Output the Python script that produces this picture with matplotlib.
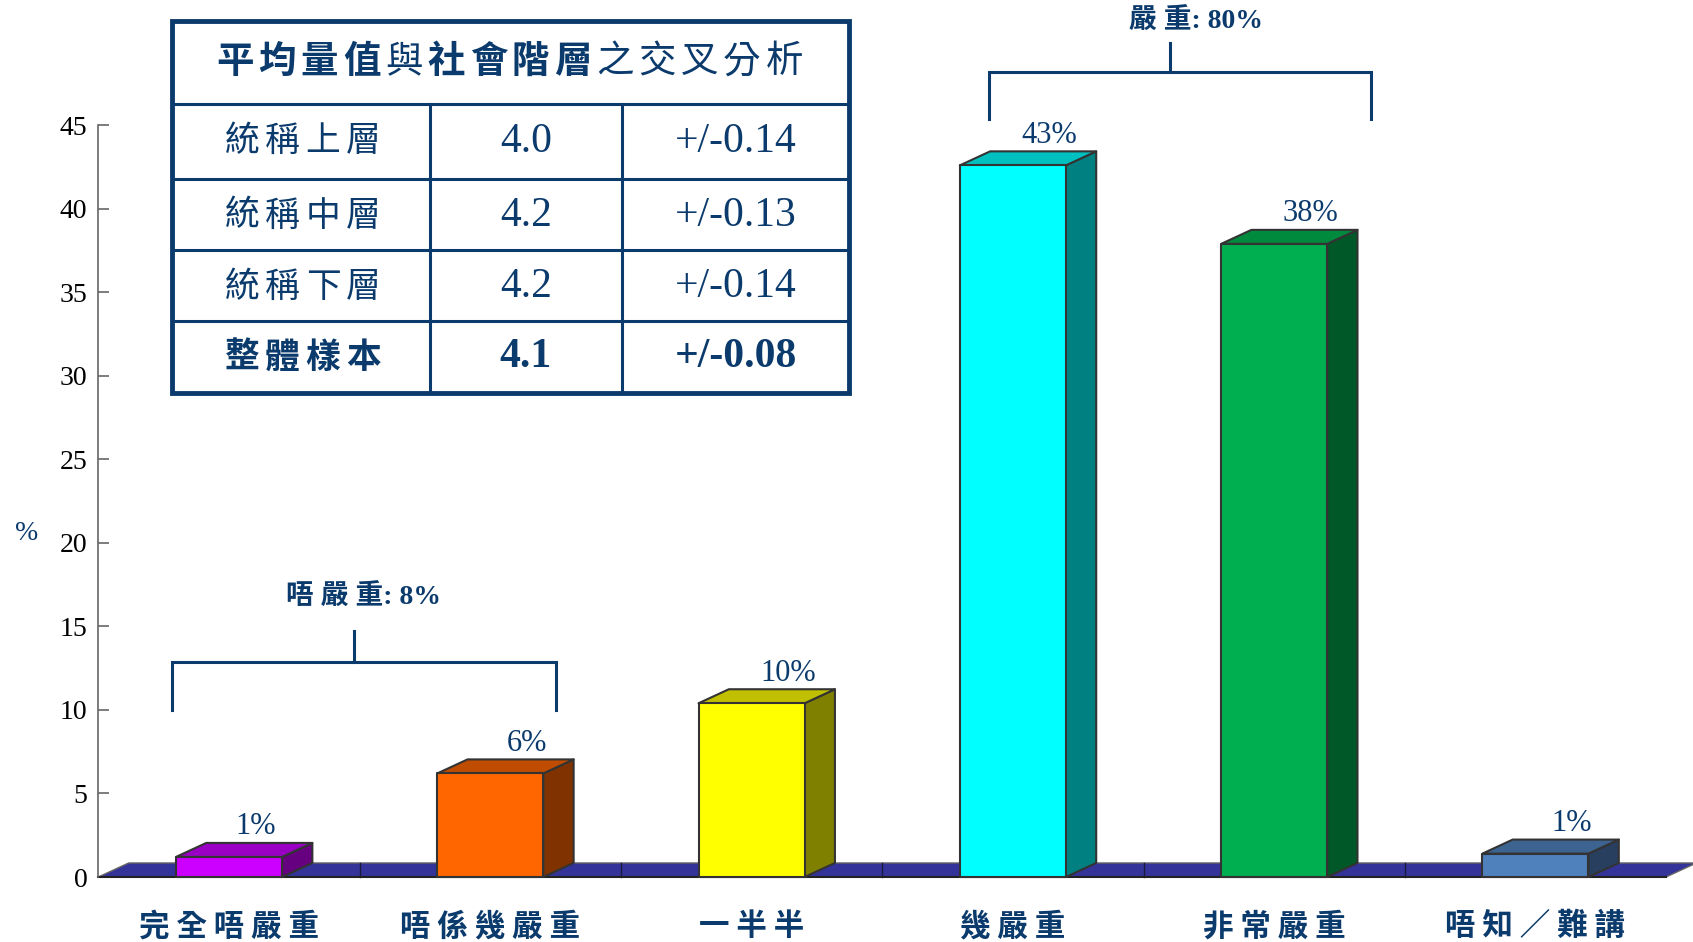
import numpy as np
import matplotlib.pyplot as plt
from matplotlib.patches import Polygon, Rectangle

plt.rcParams['font.family'] = ['Liberation Serif', 'Noto Sans CJK TC', 'DejaVu Sans']

# data
categories = ['完全唔嚴重', '唔係幾嚴重', '一半半', '幾嚴重', '非常嚴重', '唔知／難講']
values = [1.2, 6.2, 10.4, 42.6, 37.9, 1.4]
value_labels = ['1%', '6%', '10%', '43%', '38%', '1%']
front_colors = ['#CC00FF', '#FF6600', '#FFFF00', '#00FFFF', '#00B050', '#4F81BD']
top_colors = ['#9A00C4', '#C04C00', '#C0C000', '#00C0C0', '#008A3E', '#3D6391']
side_colors = ['#660080', '#803300', '#808000', '#008080', '#005828', '#283F5F']

table_header = '平均量值與社會階層之交叉分析'
header_bold = [1, 1, 1, 1, 0, 1, 1, 1, 1, 0, 0, 0, 0, 0]
table_rows = ['統稱上層', '統稱中層', '統稱下層', '整體樣本']
table_means = ['4.0', '4.2', '4.2', '4.1']
table_errs = ['+/-0.14', '+/-0.13', '+/-0.14', '+/-0.08']

group_labels = ['唔 嚴 重: 8%', '嚴 重: 80%']

navy = '#0B3A6C'
cjk = ['Noto Sans CJK TC', 'DejaVu Sans']

fig = plt.figure(figsize=(16.93, 9.42), dpi=100)
ax = fig.add_axes([0.0581, 0.069, 0.926, 0.798])
ax.set_xlim(-0.5, 5.5)
ax.set_ylim(0, 45)
for s in ['top', 'right', 'bottom']:
    ax.spines[s].set_visible(False)
ax.spines['left'].set_color('#666666')
ax.spines['left'].set_linewidth(1.2)
ax.set_yticks(np.arange(0, 46, 5))
ax.set_xticks([])
ax.tick_params(axis='y', direction='in', length=8, width=1.2, color='#666666',
               pad=8, labelsize=20, labelcolor='black')
ax.set_ylabel('%', rotation=0, fontsize=20, color=navy)
ax.yaxis.set_label_coords(-0.046, 0.44)

x = np.arange(len(categories))
w = 0.203
dx, dy = 0.116, 0.84

# floor
floor = Polygon([(-0.5, 0), (5.5, 0), (5.5 + dx, dy), (-0.5 + dx, dy)],
                closed=True, facecolor='#333399', edgecolor='#666666', lw=1,
                clip_on=False, zorder=1)
ax.add_patch(floor)
ax.plot([-0.5, 5.5], [0, 0], color='#222222', lw=1.5, clip_on=False, zorder=1.6)
for b in np.arange(0.5, 5.5, 1.0):
    ax.plot([b, b], [0, dy], color='#1a1a40', lw=1, clip_on=False, zorder=1.5)

# bars
for i, v in enumerate(values):
    xc = x[i]
    front = [(xc - w, 0), (xc + w, 0), (xc + w, v), (xc - w, v)]
    top = [(xc - w, v), (xc + w, v), (xc + w + dx, v + dy), (xc - w + dx, v + dy)]
    side = [(xc + w, 0), (xc + w + dx, dy), (xc + w + dx, v + dy), (xc + w, v)]
    for pts, col in [(side, side_colors[i]), (top, top_colors[i]), (front, front_colors[i])]:
        ax.add_patch(Polygon(pts, closed=True, facecolor=col, edgecolor='#333333',
                             lw=1.5, clip_on=False, zorder=3, joinstyle='round'))
    ax.text(xc + (0.1 if i == 0 else 0.14), v + dy + 0.1, value_labels[i],
            ha='center', va='bottom', fontsize=22, color=navy, zorder=4)
    ax.text(xc, -2.95, ' '.join(categories[i]), ha='center', va='center',
            fontsize=22, fontweight='bold', color=navy, family=cjk, clip_on=False)

# group brackets
brackets = [(-0.22, 1.25, 0.48, 10.0, 12.9, 14.7, 0.513, 16.7),
            (2.91, 4.37, 3.60, 45.4, 48.2, 49.9, 3.70, 51.2)]
for (x0, x1, xm, yb, yh, yt, xl, yl), lab in zip(brackets, group_labels):
    ax.plot([x0, x0, x1, x1], [yb, yh, yh, yb], color=navy, lw=2.2,
            clip_on=False, solid_joinstyle='miter')
    ax.plot([xm, xm], [yh, yt], color=navy, lw=2.2, clip_on=False)
    ax.text(xl, yl, lab, ha='center', va='center', fontsize=20, fontweight='bold',
            color=navy, clip_on=False)

# inset table
tax = fig.add_axes([0.1015, 0.583, 0.3998, 0.395])
tax.set_xlim(0, 1)
tax.set_ylim(0, 1)
tax.axis('off')
tax.add_patch(Rectangle((0, 0), 1, 1, fill=False, edgecolor=navy, lw=3.5,
                        clip_on=False))
row_lines = [0.777, 0.574, 0.383, 0.194]
for yv in row_lines:
    tax.plot([0, 1], [yv, yv], color=navy, lw=2.2)
for xv in [0.381, 0.665]:
    tax.plot([xv, xv], [0, row_lines[0]], color=navy, lw=2.2)

for i, ch in enumerate(table_header):
    tax.text(0.0933 + i * 0.0624, 0.89, ch, ha='center', va='center', fontsize=27,
             fontweight='bold' if header_bold[i] else 'normal', color=navy, family=cjk)

row_y = [0.675, 0.475, 0.284, 0.096]
for r, (name, m, e) in enumerate(zip(table_rows, table_means, table_errs)):
    wt = 'bold' if r == len(table_rows) - 1 else 'normal'
    for j, ch in enumerate(name):
        tax.text(0.1037 + j * 0.0598, row_y[r], ch, ha='center', va='center',
                 fontsize=25, fontweight=wt, color=navy, family=cjk)
    tax.text(0.523, row_y[r], m, ha='center', va='center', fontsize=30,
             fontweight=wt, color=navy)
    tax.text(0.833, row_y[r], e, ha='center', va='center', fontsize=30,
             fontweight=wt, color=navy)

fig.savefig('out.png', dpi=100, facecolor='white')
